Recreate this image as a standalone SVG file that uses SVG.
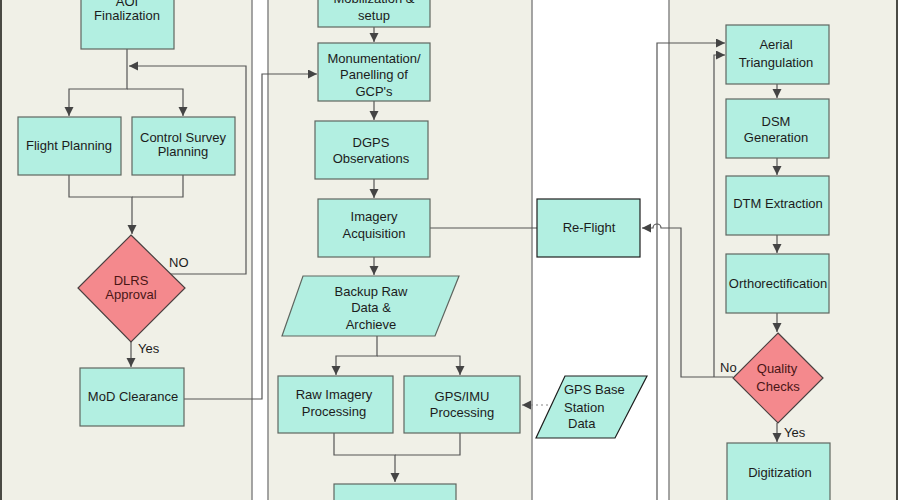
<svg xmlns="http://www.w3.org/2000/svg" width="900" height="500" viewBox="0 0 900 500">
<style>
.lane{fill:#f0f0e7;stroke:#888888;stroke-width:1.5}
.box{fill:#b2efe1;stroke:#5f6660;stroke-width:1.2}
.dark{stroke:#1e1e1e}
.dia{fill:#f4898d;stroke:#4a4040;stroke-width:1.2}
text{font-family:"Liberation Sans",Arial,sans-serif;font-size:13px;fill:#1c1c1c;text-anchor:middle}
.dt{fill:#4a1616}
.lbl{text-anchor:start}
.c{fill:none;stroke:#555555;stroke-width:1.2}
.a{marker-end:url(#ah)}
.dot{stroke:#888888;stroke-dasharray:2 3}
.edge{stroke:#4a4a44;stroke-width:2}
</style>
<defs>
<marker id="ah" markerUnits="userSpaceOnUse" markerWidth="10" markerHeight="10" refX="9" refY="4.5" orient="auto">
<path d="M0,0 L9,4.5 L0,9 z" fill="#444444"/>
</marker>
</defs>
<rect width="900" height="500" fill="#ffffff"/>
<g id="lanes">
<rect class="lane" x="1" y="-10" width="251" height="520"/>
<line class="edge" x1="1" y1="-10" x2="1" y2="510"/>
<rect class="lane" x="268" y="-10" width="264" height="520"/>
<rect class="lane" x="669" y="-10" width="228" height="520"/>
<line class="edge" x1="897" y1="-10" x2="897" y2="510"/>
</g>
<g id="connectors">
<path class="c a" d="M127,49 V89 H69 V116"/>
<path class="c a" d="M127,89 H183 V116"/>
<path class="c a" d="M69,175 V197 H132 V234"/>
<path class="c" d="M183,175 V197 H132"/>
<path class="c a" d="M170,274 H246 V66 H129"/>
<path class="c a" d="M131,342 V367"/>
<path class="c a" d="M184,399 H262 V74 H317"/>
<path class="c a" d="M374,27 V42"/>
<path class="c a" d="M374,101 V120"/>
<path class="c a" d="M374,179 V198"/>
<path class="c" d="M430,228 H537"/>
<path class="c a" d="M374,257 V275"/>
<path class="c a" d="M377,336 V356 H336 V375"/>
<path class="c a" d="M377,356 H460 V375"/>
<path class="c dot a" d="M548,405 H522"/>
<path class="c a" d="M334,433 V455 H395 V482"/>
<path class="c" d="M460,433 V455 H395"/>
<path class="c a" d="M657,510 V43 H725"/>
<path class="c a" d="M733,377 H681 V228 H661 A4,4 0 0 0 653,228 H642"/>
<path class="c a" d="M714,377 V55 H725"/>
<path class="c a" d="M777,84 V98"/>
<path class="c a" d="M777,158 V175"/>
<path class="c a" d="M777,235 V253"/>
<path class="c a" d="M777,313 V332"/>
<path class="c a" d="M777,423 V442"/>
</g>
<g id="aoi"><rect class="box" x="81" y="-12" width="93" height="61"/><text x="127" y="6">AOI</text><text x="127" y="20">Finalization</text></g>
<g id="flight"><rect class="box" x="18" y="117" width="103" height="58"/><text x="69" y="150">Flight Planning</text></g>
<g id="control"><rect class="box" x="132" y="117" width="103" height="58"/><text x="183" y="142">Control Survey</text><text x="183" y="156">Planning</text></g>
<g id="dlrs"><polygon class="dia" points="131,235 185,288 131,342 78,288"/><text class="dt" x="131" y="285">DLRS</text><text class="dt" x="131" y="299">Approval</text></g>
<g id="labels-left"><text class="lbl" x="169" y="267">NO</text><text class="lbl" x="138" y="353">Yes</text></g>
<g id="mod"><rect class="box" x="80" y="368" width="104" height="58"/><text x="133" y="401">MoD Clearance</text></g>
<g id="mobil"><rect class="box" x="318" y="-31" width="112" height="58"/><text x="374" y="3">Mobilization &amp;</text><text x="374" y="20">setup</text></g>
<g id="monu"><rect class="box" x="318" y="43" width="112" height="58"/><text x="374" y="63">Monumentation/</text><text x="374" y="79">Panelling of</text><text x="374" y="96">GCP's</text></g>
<g id="dgps"><rect class="box" x="315" y="121" width="113" height="58"/><text x="371" y="147">DGPS</text><text x="371" y="163">Observations</text></g>
<g id="imagery"><rect class="box" x="318" y="199" width="112" height="58"/><text x="374" y="221">Imagery</text><text x="374" y="238">Acquisition</text></g>
<g id="reflight"><rect class="box dark" x="537" y="199" width="103" height="58"/><text x="589" y="232">Re-Flight</text></g>
<g id="backup"><polygon class="box" points="303,276 459,276 435,336 282,336"/><text x="371" y="296">Backup Raw</text><text x="371" y="312">Data &amp;</text><text x="371" y="329">Archieve</text></g>
<g id="rawimg"><rect class="box" x="278" y="376" width="115" height="57"/><text x="334" y="399">Raw Imagery</text><text x="334" y="416">Processing</text></g>
<g id="gpsimu"><rect class="box" x="404" y="376" width="116" height="57"/><text x="462" y="401">GPS/IMU</text><text x="462" y="417">Processing</text></g>
<g id="gpsbase"><polygon class="box dark" points="565,376 647,376 615,438 536,438"/><text class="lbl" x="564" y="394">GPS Base</text><text class="lbl" x="564" y="412">Station</text><text class="lbl" x="568" y="428">Data</text></g>
<g id="bottom-mid"><rect class="box" x="334" y="484" width="122" height="30"/></g>
<g id="aerial"><rect class="box" x="726" y="25" width="103" height="59"/><text x="776" y="49">Aerial</text><text x="776" y="67">Triangulation</text></g>
<g id="dsm"><rect class="box" x="726" y="99" width="103" height="59"/><text x="776" y="126">DSM</text><text x="776" y="142">Generation</text></g>
<g id="dtm"><rect class="box" x="726" y="176" width="103" height="59"/><text x="778" y="208">DTM Extraction</text></g>
<g id="ortho"><rect class="box" x="726" y="254" width="103" height="59"/><text x="778" y="288">Orthorectification</text></g>
<g id="quality"><polygon class="dia" points="778,333 823,378 778,423 733,378"/><text class="dt" x="777" y="373">Quality</text><text class="dt" x="778" y="391">Checks</text></g>
<g id="labels-right"><text class="lbl" x="720" y="372">No</text><text class="lbl" x="784" y="437">Yes</text></g>
<g id="digit"><rect class="box" x="727" y="443" width="103" height="70"/><text x="780" y="477">Digitization</text></g>
</svg>
